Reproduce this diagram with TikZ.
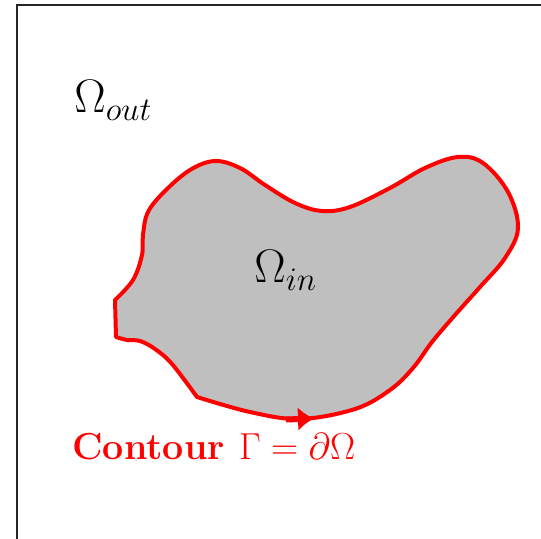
\RequirePackage{fix-cm}
\documentclass[tikz,border=0pt]{standalone}
\usepackage{amsmath}
\usetikzlibrary{arrows.meta}

\begin{document}
\begin{tikzpicture}[
    x=0.5pt, y=-0.5pt,
    region/.style={fill=lightgray, draw=red, line width=2pt, line join=round},
    frame/.style={draw=black!85, line width=0.9pt},
    lbl/.style={font=\fontsize{23.5}{28}\selectfont, inner sep=0pt, anchor=base west},
    clbl/.style={font=\fontsize{18.8}{22}\selectfont\bfseries, text=red, inner sep=0pt, anchor=base west},
    flow/.style={draw=red, line width=3pt, -{Latex[length=8pt, width=12pt]}}
  ]
    \useasboundingbox (0,0) rectangle (541,539);
    \clip (0,0) rectangle (541,539);
    \draw[frame] (17,5) rectangle (580,580);

    % the inner domain
    \path[region] (115,300) -- (116,337)
      -- plot[smooth, tension=0.6] coordinates {(116,337) (127,340) (140,341) (155,349) (172,364) (197,397)}
      -- plot[smooth, tension=0.6] coordinates {(197,397) (250,412) (300,419) (355,409) (390,390)
         (413,368) (432,342) (455,315) (480,287) (505,258) (518,228) (508,192) (483,163) (458,157)
         (425,168) (390,188) (350,207) (322,211) (295,203) (265,185) (240,168) (215,161) (190,170)
         (165,191) (148,212) (143,235) (142,255) (133,280) (115,300)}
      -- cycle;
    \draw[flow] (286,419.5) -- (314,418.5);

    \node[lbl] (omegaout) at (74,113) {$\Omega_{out}$};
    \node[lbl] (omegain) at (254,283) {$\Omega_{in}$};
    \node[clbl] (contour) at (72,460) {Contour $\Gamma=\partial\Omega$};
\end{tikzpicture}
\end{document}
